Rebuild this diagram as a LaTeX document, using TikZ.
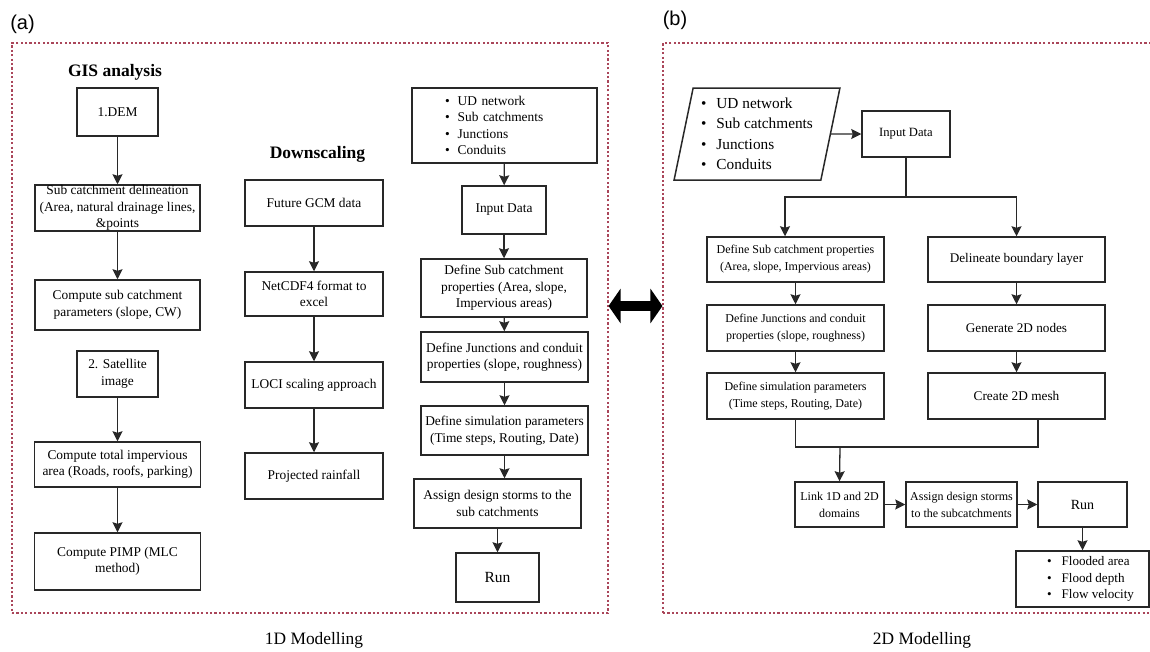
\documentclass[tikz,border=0pt]{standalone}
\usepackage{fontspec}
\setmainfont{Liberation Serif}
\newfontfamily\lblfont{Liberation Sans}
\usetikzlibrary{arrows.meta,shapes.geometric,calc}
\definecolor{dashred}{RGB}{170,70,90}
\definecolor{boxline}{RGB}{40,40,40}
\begin{document}
\begin{tikzpicture}[x=1pt,y=-1pt,
  sz/.style 2 args={minimum width=#1pt,minimum height=#2pt},
  box/.style={draw=boxline, line width=1.5pt, align=center, inner sep=0pt, text=black, font=\fontsize{13.4}{16.5}\selectfont},
  rbox/.style={box, font=\fontsize{12}{17}\selectfont},
  arr/.style={draw=boxline, line width=1.3pt, -{Stealth[width=10pt,length=10pt,inset=1.5pt]}},
  conn/.style={draw=boxline, line width=1.3pt},
  panel/.style={draw=dashred, line width=1.1pt, dash pattern=on 2.2pt off 2.2pt, inner sep=0pt},
  titletxt/.style={font=\fontsize{17.5}{20}\selectfont\bfseries},
  captxt/.style={font=\fontsize{17.4}{20}\selectfont},
  tagtxt/.style={font=\lblfont\fontsize{20}{24}\selectfont},
  dblarr/.style={draw=black, fill=black, line width=10pt, {Triangle[width=34pt,length=12pt]}-{Triangle[width=34pt,length=12pt]}}
]
\useasboundingbox (0,0) rectangle (1150,651);
\clip (0,0) rectangle (1150,651);

% panels
\node[panel, sz={596}{570}] (pa) at (310,328) {};
\node[panel, sz={520}{570}] (pb) at (923,328) {};
\node[tagtxt] (ta) at (22.5,24) {(a)};
\node[tagtxt] (tb) at (675,20) {(b)};
\node[captxt] (ca) at (314,640) {1D Modelling};
\node[captxt] (cb) at (922,640) {2D Modelling};

% double arrow
\draw[dblarr] (pa.east |- 0,306) -- (pb.west |- 0,306);

% GIS column
\node[titletxt] (gis) at (115,72) {GIS analysis};
\node[box, sz={81}{48}] (dem) at (117.5,112) {1.DEM};
\node[box, sz={165}{46}] (deli) at (117.5,208) {Sub catchment delineation\\(Area, natural drainage lines,\\\&points};
\node[box, sz={165}{50}] (cpar) at (117.5,305) {Compute sub catchment\\parameters (slope, CW)};
\node[box, sz={81}{46}] (sat) at (117.5,374) {2. Satellite\\image};
\node[box, sz={166}{45}] (imp) at (117.5,464.5) {Compute total impervious\\area (Roads, roofs, parking)};
\node[box, sz={166}{57}] (pimp) at (117.5,561.5) {Compute PIMP (MLC\\method)};
\draw[arr] (dem) -- (deli);
\draw[arr] (deli) -- (cpar);
\draw[arr] (sat) -- (imp);
\draw[arr] (imp) -- (pimp);

% Downscaling column
\node[titletxt] (down) at (317.5,154) {Downscaling};
\node[box, sz={138}{46}] (gcm) at (314,203) {Future GCM data};
\node[box, sz={138}{44}] (nc) at (314,294) {NetCDF4 format to\\excel};
\node[box, sz={138}{46}] (loci) at (314,385) {LOCI scaling approach};
\node[box, sz={138}{46}] (proj) at (314,476) {Projected rainfall};
\draw[arr] (gcm) -- (nc);
\draw[arr] (nc) -- (loci);
\draw[arr] (loci) -- (proj);

% 1D model column
\node[box, align=left, text width=119pt, inner xsep=33pt, minimum height=75pt] (ud) at (504.5,125.5)
  {\textbullet\hspace{8pt}UD network\\\textbullet\hspace{8pt}Sub catchments\\\textbullet\hspace{8pt}Junctions\\\textbullet\hspace{8pt}Conduits};
\node[box, sz={84}{48}] (inp) at (504,210) {Input Data};
\node[box, sz={166}{58}] (dsub) at (504,288) {Define Sub catchment\\properties (Area, slope,\\Impervious areas)};
\node[box, sz={167}{50}] (djun) at (504.5,357) {Define Junctions and conduit\\properties (slope, roughness)};
\node[box, sz={167}{49}] (dsim) at (504.5,430.5) {Define simulation parameters\\(Time steps, Routing, Date)};
\node[box, sz={167}{49}] (asg) at (497.5,503.5) {Assign design storms to the\\sub catchments};
\node[box, sz={83}{49}, font=\fontsize{15.5}{18}\selectfont] (run) at (497.5,577.5) {Run};
\draw[arr] (ud) -- (inp);
\draw[arr] (inp) -- (dsub);
\draw[arr] (dsub) -- (djun);
\draw[arr] (djun) -- (dsim);
\draw[arr] (dsim.south) -- (dsim.south |- asg.north);
\draw[arr] (asg) -- (run);

% 2D panel
\node[draw=boxline, line width=1.5pt, trapezium, trapezium left angle=77, trapezium right angle=103,
  trapezium stretches=true, minimum width=166pt, minimum height=92pt, inner sep=0pt, align=left,
  font=\fontsize{15.3}{20.5}\selectfont] (para) at (757,134)
  {\textbullet\hspace{10pt}UD network\\\textbullet\hspace{10pt}Sub catchments\\\textbullet\hspace{10pt}Junctions\\\textbullet\hspace{10pt}Conduits};
\node[rbox, sz={88}{46}, font=\fontsize{12.6}{16}\selectfont] (inp2) at (906,134) {Input Data};
\draw[arr] (para.east) -- (inp2.west);

\node[rbox, sz={177}{45}] (dsp) at (795.5,259.5) {Define Sub catchment properties\\(Area, slope, Impervious areas)};
\node[rbox, sz={177}{45}, font=\fontsize{13.2}{16}\selectfont] (dbl) at (1016.5,259.5) {Delineate boundary layer};
\node[rbox, sz={177}{46}] (dj2) at (795.5,328) {Define Junctions and conduit\\properties (slope, roughness)};
\node[rbox, sz={177}{46}, font=\fontsize{13.2}{16}\selectfont] (g2d) at (1016.5,328) {Generate 2D nodes};
\node[rbox, sz={177}{46}] (ds2) at (795.5,396) {Define simulation parameters\\(Time steps, Routing, Date)};
\node[rbox, sz={177}{46}, font=\fontsize{13.3}{16}\selectfont] (mesh) at (1016.5,396) {Create 2D mesh};

\coordinate (split) at (906,197);
\draw[conn] (inp2.south) -- (split);
\draw[arr] (split) -| ([xshift=-10.5pt]dsp.north);
\draw[arr] (split) -| (dbl.north);
\draw[arr] (dsp) -- (dj2);
\draw[arr] (dj2) -- (ds2);
\draw[arr] (dbl) -- (g2d);
\draw[arr] (g2d) -- (mesh);

\node[rbox, sz={89}{45}] (link) at (839.5,504.5) {Link 1D and 2D\\domains};
\node[rbox, sz={111}{45}] (asd) at (961.5,504.5) {Assign design storms\\to the subcatchments};
\node[rbox, sz={89}{45}, font=\fontsize{14}{17}\selectfont] (run2) at (1082.5,504.5) {Run};
\node[rbox, sz={133}{56}, align=left, font=\fontsize{13.1}{16.5}\selectfont] (out) at (1082.5,579)
  {\hspace*{16pt}\textbullet\hspace{10pt}Flooded area\\\hspace*{16pt}\textbullet\hspace{10pt}Flood depth\\\hspace*{16pt}\textbullet\hspace{10pt}Flow velocity};

\coordinate (join) at (840,447);
\draw[conn] (ds2.south) |- (join) -| ([xshift=21.5pt]mesh.south);
\draw[arr] (join) -- (link.north);
\draw[arr] (link) -- (asd);
\draw[arr] (asd) -- (run2);
\draw[arr] (run2) -- (out);
\end{tikzpicture}
\end{document}
